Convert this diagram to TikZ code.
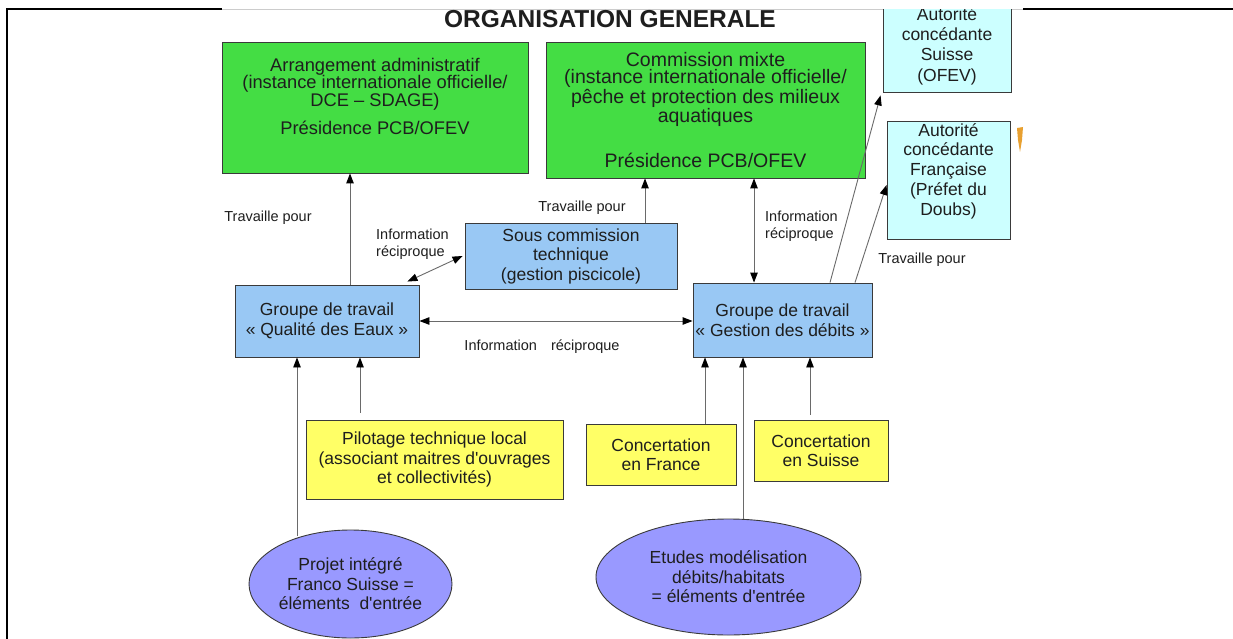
\documentclass[tikz,border=0pt]{standalone}
\usepackage{fontspec}
\setmainfont{Liberation Sans}
\newfontfamily\plainap{Liberation Sans}[Ligatures=ResetAll]
\usetikzlibrary{arrows.meta,shapes.geometric,calc}
\newcommand{\sqapos}{{\plainap'}}
\definecolor{gfill}{HTML}{44DD44}
\definecolor{bfill}{HTML}{99C8F4}
\definecolor{cfill}{HTML}{CCFFFF}
\definecolor{yfill}{HTML}{FFFF66}
\definecolor{efill}{HTML}{9999FF}
\definecolor{boxline}{HTML}{3A3A3A}
\definecolor{txt}{HTML}{1E1E1E}
\definecolor{conn}{HTML}{6A6A6A}
\definecolor{orng}{HTML}{E8A030}
\begin{document}
\begin{tikzpicture}[x=1pt,y=-1pt,
  base/.style={draw=boxline, line width=0.9pt, inner sep=0pt, align=center, text=txt, font=\fontsize{17.5}{19.5}\selectfont},
  gbox/.style={base, fill=gfill},
  bbox/.style={base, fill=bfill},
  cbox/.style={base, fill=cfill},
  ybox/.style={base, fill=yfill},
  ell/.style={base, ellipse, fill=efill},
  lbl/.style={inner sep=0pt, text=txt, font=\fontsize{14.5}{17}\selectfont, align=left},
  tlbl/.style={inner sep=0pt, text=txt, align=center},
  link/.style={draw=conn, line width=0.9pt, -{Triangle[length=10pt,width=7.5pt,color=black]}},
  blink/.style={draw=conn, line width=0.9pt, {Triangle[length=10pt,width=7.5pt,color=black]}-{Triangle[length=10pt,width=7.5pt,color=black]}}
]
\useasboundingbox (0,0) rectangle (1233,639);
\fill[white] (0,0) rectangle (1233,639);

% frame
\draw[line width=2pt] (7,639) -- (7,9) -- (222,9);
\draw[line width=2pt] (1023,9) -- (1233,9);
\draw[line width=0.6pt, gray!40] (222,9.5) -- (1023,9.5);

% title
\node[tlbl, font=\bfseries\fontsize{24.5}{26}\selectfont] (title) at (610,19.5) {ORGANISATION GENERALE};

% green boxes
\node[gbox, minimum width=306pt, minimum height=131pt] (arr) at (375,107.5) {};
\node[tlbl, font=\fontsize{18.3}{17.5}\selectfont] (arrtxt) at (375,96.5) {Arrangement administratif\\(instance internationale officielle/\\DCE -- SDAGE)\\[11pt]Présidence PCB/OFEV};
\node[gbox, minimum width=319pt, minimum height=136pt, font=\fontsize{19.5}{17.8}\selectfont] (com) at (705.5,110) {Commission mixte\\(instance internationale officielle/\\pêche et protection des milieux\\aquatiques\\[26pt]Présidence PCB/OFEV};

% authorities
\begin{scope}
\clip (0,10) rectangle (1233,639);
\node[cbox, minimum width=128pt, minimum height=92pt, font=\fontsize{17.5}{20.3}\selectfont] (sui) at (947,46) {Autorité\\concédante\\Suisse\\(OFEV)};
\end{scope}
\node[cbox, minimum width=123pt, minimum height=118pt] (fra) at (948.5,180) {};
\node[tlbl, font=\fontsize{17.5}{19.8}\selectfont] (fratxt) at (948.5,171) {Autorité\\concédante\\Française\\(Préfet du\\Doubs)};

% blue boxes
\node[bbox, minimum width=212pt, minimum height=66pt] (sous) at (571,256) {Sous commission\\technique\\(gestion piscicole)};
\node[bbox, minimum width=184pt, minimum height=72pt] (qual) at (327,321) {Groupe de travail\\« Qualité des Eaux »};
\node[bbox, minimum width=179pt, minimum height=74pt] (gest) at (782.5,320) {Groupe de travail\\« Gestion des débits »};

% yellow boxes
\node[ybox, minimum width=257pt, minimum height=79pt] (pil) at (434.5,459.5) {Pilotage technique local\\(associant maitres d\sqapos ouvrages\\et collectivités)};
\node[ybox, minimum width=150pt, minimum height=61pt] (cfr) at (661,454.5) {Concertation\\en France};
\node[ybox, minimum width=134pt, minimum height=61pt] (csu) at (821,450.5) {Concertation\\en Suisse};

% ellipses
\node[ell, minimum width=203pt, minimum height=108pt] (proj) at (350.5,584) {Projet intégré\\Franco Suisse =\\éléments\ \ d\sqapos entrée};
\node[ell, minimum width=265pt, minimum height=116pt] (etu) at (728.5,577) {Etudes modélisation\\débits/habitats\\= éléments d\sqapos entrée};

% small artefact
\fill[orng] (1017,128) -- (1023,127) -- (1022,140) -- (1020,152) -- (1018,140) -- cycle;

% labels
\node[lbl] (t1) at (268,218) {Travaille pour};
\node[lbl] (t2) at (582,208) {Travaille pour};
\node[lbl] (t3) at (922,260) {Travaille pour};
\node[lbl, anchor=west] (i1) at (376,244) {Information\\réciproque};
\node[lbl, anchor=west] (i2) at (765,226) {Information\\réciproque};
\node[lbl] (i3) at (542,347) {Information\hspace{14pt}réciproque};

% connectors
\draw[link] ([xshift=23pt]qual.north) -- ([xshift=23pt]qual.north |- arr.south);
\draw[link] ([xshift=74pt]sous.north) -- ([xshift=74pt]sous.north |- com.south);
\draw[blink] ([xshift=-28.5pt]gest.north) -- ([xshift=-28.5pt]gest.north |- com.south);
\draw[link] ([xshift=47.5pt]gest.north) -- ([xshift=-2pt,yshift=-3pt]sui.south west);
\draw[link] ([xshift=72.5pt]gest.north) -- ([yshift=-5pt]fra.west);
\draw[blink] ([xshift=-12pt,yshift=3pt]qual.north east) -- ([xshift=-2pt]sous.west);
\draw[blink] (qual.east) -- (qual.east -| gest.west);
\draw[link] ([xshift=-74.5pt,yshift=7pt]pil.north) -- ([xshift=-74.5pt]pil.north |- qual.south);
\draw[link] ([xshift=-53.5pt,yshift=48pt]proj.center) -- ([xshift=-53.5pt]proj.center |- qual.south);
\draw[link] ([xshift=44pt]cfr.north) -- ([xshift=44pt]cfr.north |- gest.south);
\draw[link] ([xshift=14.5pt]etu.north) -- ([xshift=14.5pt]etu.north |- gest.south);
\draw[link] ([xshift=-11pt,yshift=5pt]csu.north) -- ([xshift=-11pt]csu.north |- gest.south);
\end{tikzpicture}
\end{document}
